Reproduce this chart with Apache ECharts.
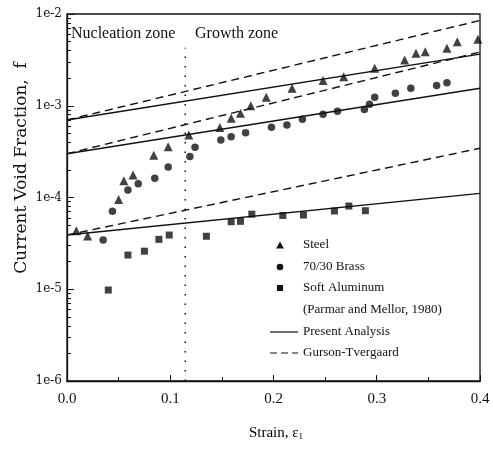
<!DOCTYPE html>
<html><head><meta charset="utf-8">
<script src="https://cdn.jsdelivr.net/npm/echarts@6/dist/echarts.min.js"></script>
<style>html,body{margin:0;padding:0;background:#fff}#c{width:493px;height:453px}</style>
</head><body><div id="c"></div>
<script>
// ---- data ----
const steelStrain = [0.009,0.020,0.050,0.055,0.064,0.084,0.098,0.118,0.148,0.159,0.168,0.178,0.193,0.218,0.248,0.268,0.298,0.327,0.338,0.347,0.368,0.378,0.398];
const steelF = [4.35e-5,3.8e-5,9.5e-5,1.52e-4,1.76e-4,2.88e-4,3.58e-4,4.8e-4,5.8e-4,7.3e-4,8.3e-4,1.0e-3,1.24e-3,1.55e-3,1.88e-3,2.07e-3,2.56e-3,3.15e-3,3.73e-3,3.88e-3,4.23e-3,4.99e-3,5.3e-3];
const brassStrain = [0.035,0.044,0.059,0.069,0.085,0.098,0.119,0.124,0.149,0.159,0.173,0.198,0.213,0.228,0.248,0.262,0.288,0.293,0.298,0.318,0.333,0.358,0.368];
const brassF = [3.44e-5,7.1e-5,1.21e-4,1.41e-4,1.62e-4,2.15e-4,2.79e-4,3.52e-4,4.24e-4,4.6e-4,5.08e-4,5.82e-4,6.17e-4,7.11e-4,8.07e-4,8.69e-4,9.1e-4,1.04e-3,1.24e-3,1.37e-3,1.55e-3,1.66e-3,1.78e-3];
const alStrain = [0.040,0.059,0.075,0.089,0.099,0.135,0.159,0.168,0.179,0.209,0.229,0.259,0.273,0.289];
const alF = [9.8e-6,2.36e-5,2.6e-5,3.5e-5,3.9e-5,3.78e-5,5.44e-5,5.5e-5,6.58e-5,6.37e-5,6.44e-5,7.13e-5,8.07e-5,7.18e-5];
// model curves (end points)
const curveStrain = [0.0, 0.4];
const steelPresent = [7.0e-4, 3.65e-3];
const steelGurson = [7.0e-4, 8.5e-3];
const brassPresent = [3.0e-4, 1.55e-3];
const brassGurson = [3.0e-4, 3.85e-3];
const alPresent = [3.9e-5, 1.11e-4];
const alGurson = [3.9e-5, 3.44e-4];
// zone boundary
const zoneStrain = [0.1145, 0.1145];
const zoneF = [1e-6, 4.3e-3];
// axis ticks
const xTicks = [0.0, 0.1, 0.2, 0.3, 0.4];
const yMajor = [1e-6, 1e-5, 1e-4, 1e-3, 1e-2];

const yMinor = [];
for (let e = -6; e < -2; e++) for (let k = 2; k <= 9; k++) yMinor.push(+(k * Math.pow(10, e)).toPrecision(3));

const pts = (xs, ys) => xs.map((x, i) => [x, ys[i]]);
const SERIF = '"Liberation Serif", "Times New Roman", serif';
const ink = '#111';

const chart = echarts.init(document.getElementById('c'), null, {renderer: 'canvas'});

function lineSeries(ys, dashed) {
  return {type: 'line', data: pts(curveStrain, ys), showSymbol: false, silent: true,
    lineStyle: {color: ink, width: 1.4, type: dashed ? [8, 5] : 'solid'}, z: 2};
}

chart.setOption({
  animation: false,
  backgroundColor: '#fff',
  grid: {left: 67, right: 13, top: 14, bottom: 72, show: true, borderColor: ink, borderWidth: 1.3, backgroundColor: 'transparent'},
  xAxis: {type: 'value', min: 0, max: 0.4, interval: 0.1,
    axisLine: {lineStyle: {color: ink, width: 1.3}},
    axisTick: {inside: true, length: 6, lineStyle: {color: ink}},
    minorTick: {show: true, splitNumber: 2, length: 4, lineStyle: {color: ink}},
    splitLine: {show: false},
    axisLabel: {color: ink, fontFamily: SERIF, fontSize: 15, margin: 11, formatter: v => v.toFixed(1)}
  },
  yAxis: [
    {type: 'log', logBase: 10, min: 1e-6, max: 1e-2,
      axisLine: {lineStyle: {color: ink, width: 1.3}},
      axisTick: {inside: true, length: 7, customValues: yMajor, lineStyle: {color: ink}},
      splitLine: {show: false},
      axisLabel: {color: ink, fontFamily: '"DejaVu Serif", serif', fontSize: 12, margin: 5, customValues: yMajor,
        formatter: v => '1e' + Math.round(Math.log10(v))}
    },
    {type: 'log', logBase: 10, min: 1e-6, max: 1e-2, position: 'left',
      axisLine: {show: false}, splitLine: {show: false}, axisLabel: {show: false},
      axisTick: {inside: true, length: 4, customValues: yMinor, lineStyle: {color: ink}}
    }
  ],
  series: [
    {name: 'Steel', type: 'scatter', symbol: 'triangle', symbolSize: 9, data: pts(steelStrain, steelF), itemStyle: {color: ink}, z: 3},
    {name: '70/30 Brass', type: 'scatter', symbol: 'circle', symbolSize: 7.5, data: pts(brassStrain, brassF), itemStyle: {color: ink}, z: 3},
    {name: 'Soft Aluminum', type: 'scatter', symbol: 'rect', symbolSize: 7, data: pts(alStrain, alF), itemStyle: {color: ink}, z: 3},
    lineSeries(steelPresent, false), lineSeries(steelGurson, true),
    lineSeries(brassPresent, false), lineSeries(brassGurson, true),
    lineSeries(alPresent, false), lineSeries(alGurson, true),
    {type: 'line', data: pts(zoneStrain, zoneF), showSymbol: false, silent: true,
      lineStyle: {color: ink, width: 1.5, type: [1.5, 8]}, z: 2}
  ],
  graphic: [
    {type: 'text', left: 71, top: 26, style: {text: 'Nucleation zone', font: '16px ' + SERIF, fill: ink}},
    {type: 'text', left: 195, top: 26, style: {text: 'Growth zone', font: '16px ' + SERIF, fill: ink}},
    {type: 'text', x: 22, y: 168, rotation: Math.PI / 2,
      style: {text: 'Current Void Fraction,  f', font: '17px "DejaVu Serif", serif', fill: ink, align: 'center', verticalAlign: 'middle'}},
    {type: 'text', x: 276, y: 433, style: {text: '{a|Strain, ε}{s|1}', align: 'center', verticalAlign: 'middle',
      rich: {a: {fontFamily: SERIF, fontSize: 15, color: ink}, s: {fontFamily: SERIF, fontSize: 9, color: ink, padding: [8, 0, 0, 0]}}}},
    // legend
    {type: 'polygon', shape: {points: [[280, 241.5], [283.8, 248.5], [276.2, 248.5]]}, style: {fill: ink}},
    {type: 'circle', shape: {cx: 280, cy: 267, r: 3.3}, style: {fill: ink}},
    {type: 'rect', shape: {x: 277, y: 285, width: 6, height: 6}, style: {fill: ink}},
    {type: 'line', shape: {x1: 270, y1: 332, x2: 298, y2: 332}, style: {stroke: ink, lineWidth: 1.2}},
    {type: 'line', shape: {x1: 270, y1: 353, x2: 298, y2: 353}, style: {stroke: ink, lineWidth: 1.2, lineDash: [7, 4]}},
    {type: 'text', x: 303, y: 245, style: {text: 'Steel', font: '13px ' + SERIF, fill: ink, verticalAlign: 'middle'}},
    {type: 'text', x: 303, y: 267, style: {text: '70/30 Brass', font: '13px ' + SERIF, fill: ink, verticalAlign: 'middle'}},
    {type: 'text', x: 303, y: 288, style: {text: 'Soft Aluminum', font: '13px ' + SERIF, fill: ink, verticalAlign: 'middle'}},
    {type: 'text', x: 303, y: 310, style: {text: '(Parmar and Mellor, 1980)', font: '13px ' + SERIF, fill: ink, verticalAlign: 'middle'}},
    {type: 'text', x: 303, y: 332, style: {text: 'Present Analysis', font: '13px ' + SERIF, fill: ink, verticalAlign: 'middle'}},
    {type: 'text', x: 303, y: 353, style: {text: 'Gurson-Tvergaard', font: '13px ' + SERIF, fill: ink, verticalAlign: 'middle'}}
  ]
});
</script></body></html>
